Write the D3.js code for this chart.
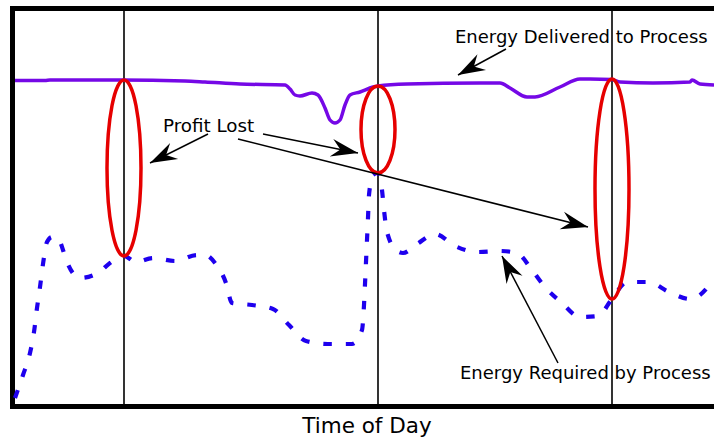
<!DOCTYPE html>
<html>
<head>
<meta charset="utf-8">
<script src="https://cdn.jsdelivr.net/npm/d3@7"></script>
<style>
body { margin: 0; background: #fff; }
svg { display: block; font-family: "DejaVu Sans", Verdana, sans-serif; }
</style>
</head>
<body>
<svg id="chart" width="714" height="438"></svg>
<script>
// time in minutes from start of window, energy in arbitrary units

// energy delivered to process (solid purple)
const deliveredTime = [0, 60, 70, 210, 340, 380, 450, 540, 550, 560, 570, 594, 606, 620, 630, 640, 650, 660, 670, 690, 716, 726, 784, 930, 970, 990, 1024, 1040, 1090, 1130, 1150, 1194, 1210, 1276, 1350, 1354, 1370, 1398];
const deliveredEnergy = [323.5, 323.5, 324, 324, 323, 322, 320, 319, 315, 309, 308, 311, 309, 296, 284, 281, 284, 299, 309, 312, 317, 318, 320, 321, 321, 316, 307, 307, 317, 325, 325, 324.5, 322, 321, 322, 324, 320, 319];

// energy required by process (dashed blue)
const requiredTime = [0, 16, 30, 38, 44, 50, 56, 64, 74, 86, 96, 104, 130, 166, 190, 218, 242, 276, 320, 364, 380, 400, 422, 434, 474, 516, 548, 582, 626, 674, 694, 698, 700, 702, 704, 706, 708, 716, 726, 734, 738, 744, 764, 776, 804, 840, 880, 924, 970, 1004, 1034, 1060, 1094, 1130, 1166, 1194, 1224, 1266, 1308, 1350, 1384, 1398];
const requiredEnergy = [6, 29, 51, 72, 96, 117, 140, 162, 167, 166, 154, 142, 126, 131, 141, 148, 142, 146, 143, 149, 149, 141, 121, 101, 99, 95, 79, 63, 60, 60, 74, 99, 120, 142, 164, 186, 209, 229, 231, 214, 194, 172, 153, 151, 160, 170, 158, 152, 153, 151, 134, 117, 101, 87, 88, 105, 122, 122, 112, 105, 116, 126];

// moments where profit is lost (vertical markers + ellipses)
const eventTimes = [218, 726, 1194];
const eventDelivered = [324, 318, 325];
const eventRequired = [148, 231, 105];

// labels and arrows (data coords)
const labelTexts = ["Energy Delivered to Process", "Profit Lost", "Energy Required by Process"];
const labelTime = [880, 296, 890];
const labelEnergy = [361, 272, 25];
const labelSize = [18, 18.3, 18];
const arrowFrom = [[982, 355], [386, 270], [496, 270], [446, 265], [1086, 41]];
const arrowTo = [[886, 329], [270, 241], [686, 251], [1146, 177], [974, 148]];
const xTitle = "Time of Day";

const svg = d3.select("#chart");

const x = d3.scaleLinear().domain([0, 1398]).range([15, 714]);
const y = d3.scaleLinear().domain([0, 393]).range([404, 11]);

// frame (right edge runs off the page)
svg.append("rect")
  .attr("x", 12.5).attr("y", 8.5)
  .attr("width", 730).attr("height", 398)
  .attr("fill", "none").attr("stroke", "#000").attr("stroke-width", 5);

// event verticals
svg.selectAll("line.event")
  .data(eventTimes)
  .enter().append("line")
  .attr("class", "event")
  .attr("x1", d => x(d)).attr("x2", d => x(d))
  .attr("y1", y(0)).attr("y2", y(393))
  .attr("stroke", "#000").attr("stroke-width", 1.6);

const line = d3.line()
  .x(d => x(d[0])).y(d => y(d[1]))
  .curve(d3.curveMonotoneX);

// required (dashed)
svg.append("path")
  .datum(d3.zip(requiredTime, requiredEnergy))
  .attr("d", line)
  .attr("fill", "none")
  .attr("stroke", "#1e00ee")
  .attr("stroke-width", 4.2)
  .attr("stroke-dasharray", "8.5,14");

// delivered (solid)
svg.append("path")
  .datum(d3.zip(deliveredTime, deliveredEnergy))
  .attr("d", line)
  .attr("fill", "none")
  .attr("stroke", "#7508e6")
  .attr("stroke-width", 3.5)
  .attr("stroke-linejoin", "round");

// profit lost ellipses
svg.selectAll("ellipse")
  .data(d3.range(eventTimes.length))
  .enter().append("ellipse")
  .attr("cx", i => x(eventTimes[i]))
  .attr("cy", i => (y(eventDelivered[i]) + y(eventRequired[i])) / 2)
  .attr("rx", 17)
  .attr("ry", i => (y(eventRequired[i]) - y(eventDelivered[i])) / 2)
  .attr("fill", "none")
  .attr("stroke", "#e60000")
  .attr("stroke-width", 3.5);

// arrows
function arrowHead(x0, y0, x1, y1) {
  const dx = x1 - x0, dy = y1 - y0;
  const len = Math.sqrt(dx * dx + dy * dy);
  const ux = dx / len, uy = dy / len;
  const px = -uy, py = ux;
  const L = 27, W = 9, N = 18;
  return [
    [x1, y1],
    [x1 - ux * L + px * W, y1 - uy * L + py * W],
    [x1 - ux * N, y1 - uy * N],
    [x1 - ux * L - px * W, y1 - uy * L - py * W]
  ];
}

const arrows = svg.selectAll("g.arrow")
  .data(d3.range(arrowFrom.length))
  .enter().append("g").attr("class", "arrow");

arrows.append("line")
  .attr("x1", i => x(arrowFrom[i][0])).attr("y1", i => y(arrowFrom[i][1]))
  .attr("x2", i => x(arrowTo[i][0])).attr("y2", i => y(arrowTo[i][1]))
  .attr("stroke", "#000").attr("stroke-width", 1.5);

arrows.append("polygon")
  .attr("points", i => arrowHead(x(arrowFrom[i][0]), y(arrowFrom[i][1]), x(arrowTo[i][0]), y(arrowTo[i][1])).map(p => p.join(",")).join(" "))
  .attr("fill", "#000");

// labels
svg.selectAll("text.label")
  .data(labelTexts)
  .enter().append("text")
  .attr("class", "label")
  .attr("x", (d, i) => x(labelTime[i]))
  .attr("y", (d, i) => y(labelEnergy[i]))
  .attr("font-size", (d, i) => labelSize[i])
  .attr("fill", "#000")
  .text(d => d);

svg.append("text")
  .attr("x", x(704))
  .attr("y", 433)
  .attr("text-anchor", "middle")
  .attr("font-size", 21.5)
  .attr("fill", "#000")
  .text(xTitle);
</script>
</body>
</html>
